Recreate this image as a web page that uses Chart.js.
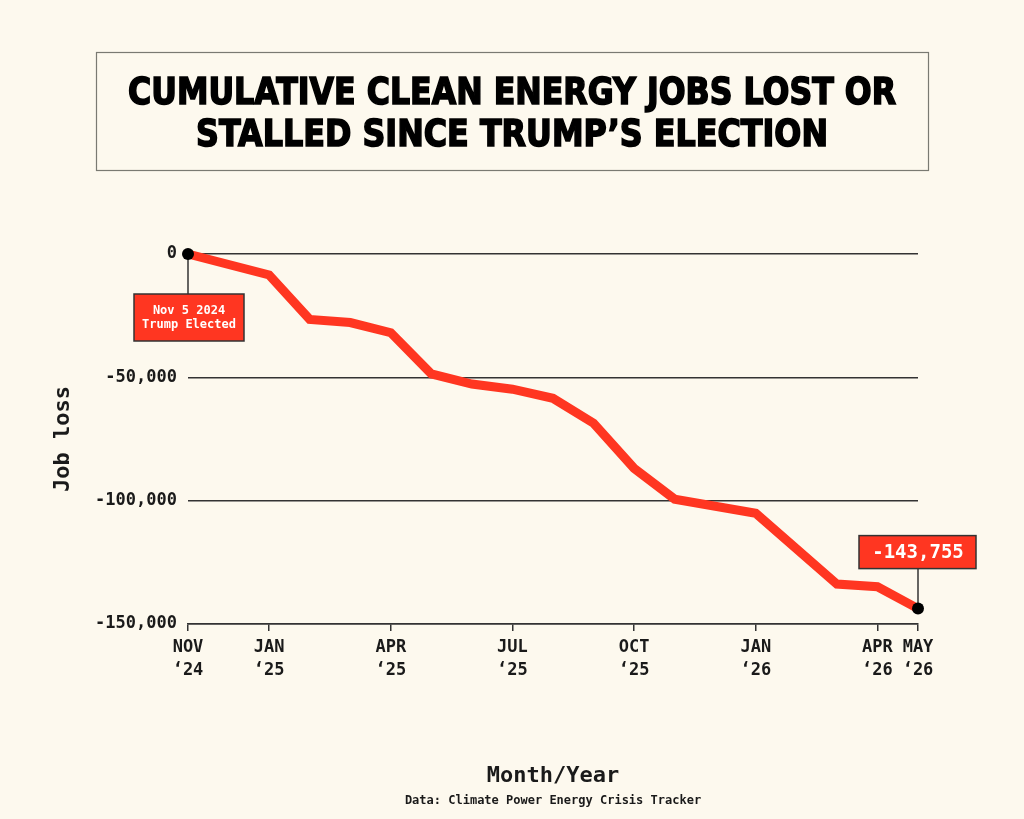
<!DOCTYPE html>
<html>
<head>
<meta charset="utf-8">
<script src="https://cdn.jsdelivr.net/npm/chart.js@4.4.1/dist/chart.umd.min.js"></script>
<style>
html,body{margin:0;padding:0;background:#FDF9EE;}
#wrap{position:relative;width:1024px;height:819px;}
canvas{display:block;}
</style>
</head>
<body>
<div id="wrap"><canvas id="c" width="1024" height="819"></canvas></div>
<script>
// Month index since Nov 2024 (0 = Nov '24)
const monthIndex = [0, 2, 3, 4, 5, 6, 7, 8, 9, 10, 11, 12, 14, 16, 17, 18];
const jobLoss = [0, -8500, -26500, -27800, -31900, -48600, -52700, -54800, -58500, -68600, -86900, -99400, -105100, -133800, -134900, -143755];
const tickValues = [0, 2, 5, 8, 11, 14, 17, 18];
const tickMonths = ['NOV', 'JAN', 'APR', 'JUL', 'OCT', 'JAN', 'APR', 'MAY'];
const tickYears = ['\u201824', '\u201825', '\u201825', '\u201825', '\u201825', '\u201826', '\u201826', '\u201826'];
const yTicks = [0, -50000, -100000, -150000];
const titleLines = ['CUMULATIVE CLEAN ENERGY JOBS LOST OR', 'STALLED SINCE TRUMP\u2019S ELECTION'];
const startNote = ['Nov 5 2024', 'Trump Elected'];
const xTitle = 'Month/Year';
const yTitle = 'Job loss';
const sourceNote = 'Data: Climate Power Energy Crisis Tracker';

const RED = '#FF3621';
const INK = '#1a1a1a';
const MONO = '"DejaVu Sans Mono", "Liberation Mono", monospace';

const fmt = v => (v < 0 ? '-' : '') + Math.abs(Math.round(v)).toLocaleString('en-US');

const decor = {
  id: 'decor',
  beforeDraw(chart) {
    const ctx = chart.ctx;
    ctx.save();
    ctx.fillStyle = '#FDF9EE';
    ctx.fillRect(0, 0, chart.width, chart.height);
    // title box
    ctx.strokeStyle = '#7a7a72';
    ctx.lineWidth = 1.2;
    ctx.strokeRect(96.5, 52.5, 832, 118);
    ctx.fillStyle = '#000';
    ctx.textAlign = 'center';
    ctx.textBaseline = 'alphabetic';
    ctx.font = 'bold 35px "DejaVu Sans", sans-serif';
    const targets = [768, 632];
    const baselines = [104, 146];
    titleLines.forEach((t, i) => {
      const w = ctx.measureText(t).width;
      const sx = targets[i] / w;
      ctx.save();
      ctx.translate(512, baselines[i]);
      ctx.scale(sx, 1.05);
      ctx.lineWidth = 1.6;
      ctx.strokeStyle = '#000';
      ctx.strokeText(t, 0, 0);
      ctx.fillText(t, 0, 0);
      ctx.restore();
    });
    ctx.restore();
  },
  afterDraw(chart) {
    const ctx = chart.ctx;
    const xs = chart.scales.x, ys = chart.scales.y;
    const ca = chart.chartArea;
    ctx.save();
    // axis titles
    ctx.fillStyle = INK;
    ctx.textAlign = 'center';
    ctx.textBaseline = 'middle';
    ctx.font = 'bold 22px ' + MONO;
    ctx.fillText(xTitle, (ca.left + ca.right) / 2, 776);
    ctx.font = 'bold 12px ' + MONO;
    ctx.fillText(sourceNote, (ca.left + ca.right) / 2, 801);
    ctx.save();
    ctx.translate(63, (ca.top + ca.bottom) / 2);
    ctx.rotate(-Math.PI / 2);
    ctx.font = 'bold 22px ' + MONO;
    ctx.fillText(yTitle, 0, 0);
    ctx.restore();

    const n = monthIndex.length - 1;
    const x0 = xs.getPixelForValue(monthIndex[0]);
    const y0 = ys.getPixelForValue(jobLoss[0]);
    const x1 = xs.getPixelForValue(monthIndex[n]);
    const y1 = ys.getPixelForValue(jobLoss[n]);

    // start annotation
    ctx.strokeStyle = '#333';
    ctx.lineWidth = 1.5;
    ctx.beginPath(); ctx.moveTo(x0, y0); ctx.lineTo(x0, y0 + 40); ctx.stroke();
    ctx.fillStyle = RED;
    ctx.fillRect(x0 - 54, y0 + 40, 110, 47);
    ctx.strokeRect(x0 - 54, y0 + 40, 110, 47);
    ctx.fillStyle = '#fff';
    ctx.font = 'bold 12px ' + MONO;
    ctx.fillText(startNote[0], x0 + 1, y0 + 57);
    ctx.fillText(startNote[1], x0 + 1, y0 + 71);

    // end annotation
    ctx.strokeStyle = '#333';
    ctx.beginPath(); ctx.moveTo(x1, y1); ctx.lineTo(x1, y1 - 40); ctx.stroke();
    ctx.fillStyle = RED;
    ctx.fillRect(x1 - 59, y1 - 73, 117, 33);
    ctx.strokeRect(x1 - 59, y1 - 73, 117, 33);
    ctx.fillStyle = '#fff';
    ctx.font = 'bold 19px ' + MONO;
    ctx.fillText(fmt(jobLoss[n]), x1, y1 - 56);

    // dots
    ctx.fillStyle = '#000';
    [[x0, y0], [x1, y1]].forEach(([px, py]) => {
      ctx.beginPath(); ctx.arc(px, py, 6, 0, Math.PI * 2); ctx.fill();
    });
    ctx.restore();
  }
};

new Chart(document.getElementById('c'), {
  type: 'line',
  data: {
    datasets: [{
      data: monthIndex.map((m, i) => ({ x: m, y: jobLoss[i] })),
      borderColor: RED,
      borderWidth: 9,
      pointRadius: 0,
      tension: 0,
      borderJoinStyle: 'miter',
      borderCapStyle: 'butt',
      clip: false
    }]
  },
  options: {
    responsive: false,
    animation: false,
    devicePixelRatio: 1,
    layout: { padding: { top: 254, right: 106, left: 0, bottom: 0 } },
    plugins: { legend: { display: false }, tooltip: { enabled: false } },
    scales: {
      x: {
        type: 'linear',
        min: 0, max: 18,
        afterFit(s) { s.height = 195; },
        afterBuildTicks(s) { s.ticks = tickValues.map(v => ({ value: v })); },
        grid: { drawOnChartArea: false, drawTicks: true, tickLength: 7, color: '#333', lineWidth: 1.5 },
        border: { display: true, color: '#333', width: 1.5 },
        ticks: {
          autoSkip: false, maxRotation: 0, padding: 6,
          color: INK,
          font: { family: MONO, weight: 'bold', size: 17, lineHeight: 1.3 },
          callback(v) { const i = tickValues.indexOf(v); return i < 0 ? '' : [tickMonths[i], tickYears[i]]; }
        }
      },
      y: {
        min: -150000, max: 0,
        afterFit(s) { s.width = 188; },
        afterBuildTicks(s) { s.ticks = yTicks.map(v => ({ value: v })); },
        grid: { drawTicks: false, color: '#333', lineWidth: 1.5 },
        border: { display: false },
        ticks: {
          padding: 11, color: INK,
          font: { family: MONO, weight: 'bold', size: 17 },
          callback: v => fmt(v)
        }
      }
    }
  },
  plugins: [decor]
});
</script>
</body>
</html>
